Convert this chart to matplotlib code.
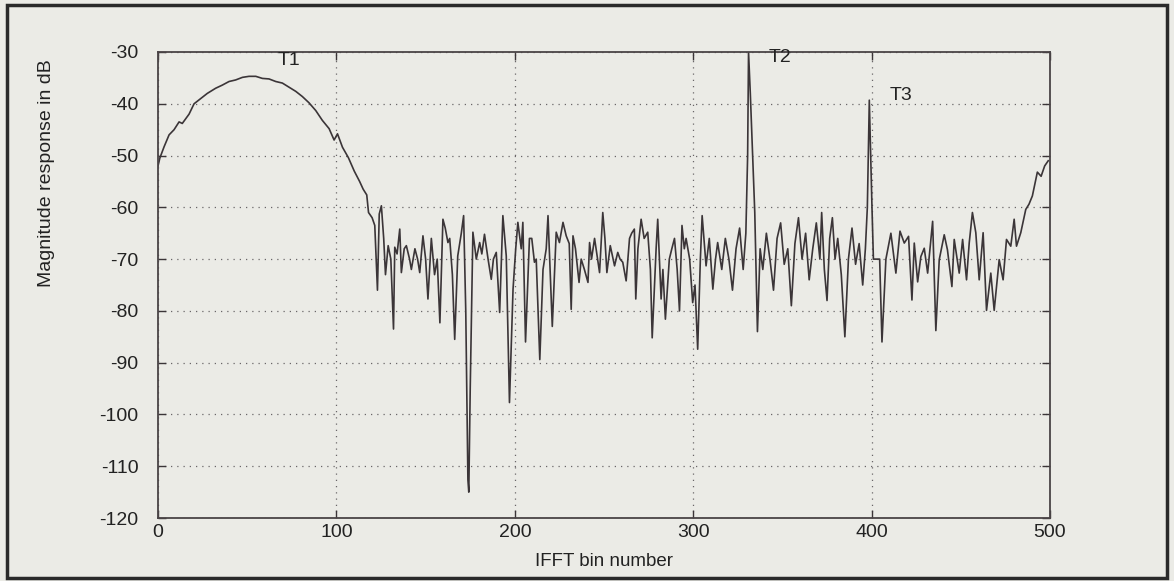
import numpy as np
import matplotlib
matplotlib.use("Agg")
import matplotlib.pyplot as plt
from matplotlib.patches import Rectangle

# values (bin, dB)
bins = [0, 1, 3.4, 6.2, 9, 11.8, 13.6, 17.4, 20.2, 23.9, 27.6, 32.3, 36, 39.8, 43.5,
        47.3, 51, 54.8, 58.5, 62.2, 66, 69.7, 73.4, 77.2, 80.9, 84.6, 88.4, 92.1,
        95.9, 98.7, 100.6, 103.4, 106.7, 110, 113, 115, 117, 118, 120, 121.5, 123,
        124, 125.2, 126.5, 127.5, 129, 130.5, 132, 132.7, 134, 135.5, 136.4, 138,
        139.2, 141, 142, 144, 145.5, 146.7, 148.5, 150, 151.3, 153.2, 155, 156.5,
        158, 159.7, 161, 162.5, 163.5, 165, 166.3, 168, 170, 171.3, 172.5, 173.7,
        174.2, 175, 176.5, 178.4, 180.3, 181.5, 183, 185, 186.8, 188, 189.6, 191.5,
        193.3, 195.2, 197, 199, 200.5, 201.7, 203.6, 204.5, 206, 208.2, 209.5, 211,
        212, 214, 215.8, 217.6, 218.6, 221, 223.2, 225, 227, 228.8, 230.5, 231.6,
        232.6, 234, 236, 237.2, 239, 241, 241.9, 243, 244.7, 246, 247.5, 249.3,
        250.5, 251.6, 253.5, 255.9, 257.7, 259, 260.5, 262.4, 264.3, 265.5, 267,
        267.8, 269, 270.8, 272.5, 274.5, 276, 277, 279.2, 280.1, 282, 283, 284.4,
        286.6, 288, 289.5, 291, 292.3, 293.7, 295, 296, 298, 299.7, 301, 302.5,
        304, 305, 307.2, 309, 311, 312.5, 313.7, 316, 318, 320, 322, 324, 326, 328,
        329.5, 330.5, 331, 332, 334.5, 336, 337.5, 339, 341, 343, 345, 347, 349,
        351, 353, 355, 357, 359, 361, 363, 365, 367, 369, 371, 372, 373.5, 375,
        376.5, 378, 379.5, 381, 383, 385, 387, 389, 391, 393, 395, 396.5, 397.6,
        398.7, 400.2, 401, 403, 404.5, 405.8, 408, 410.8, 413.6, 415.9, 418.3,
        420.7, 422.6, 423.9, 425.8, 427.6, 429.5, 431.4, 434.2, 436, 437.9, 440.7,
        442.5, 445, 446.3, 449.1, 451, 453.2, 454.7, 456.5, 458.4, 460.3, 462.5,
        464.4, 466.8, 468.7, 471.5, 473.7, 475.6, 478, 479.9, 481.2, 483.6, 486.4,
        488.2, 490.1, 492.9, 495, 497, 499]

magnitude_db = [-52, -50.5, -48.3, -46, -45, -43.5, -43.8, -42, -40, -39, -38, -37,
                -36.4, -35.7, -35.4, -34.9, -34.7, -34.7, -35.1, -35.2, -35.7, -36,
                -36.8, -37.6, -38.6, -39.8, -41.3, -43.2, -44.8, -47, -45.8, -48.4,
                -50.4, -53, -55, -56.5, -57.6, -61, -62, -63.5, -76, -61.3, -59.7,
                -66, -73, -67.4, -70, -83.5, -67.7, -69, -64.2, -72.6, -68, -67.4,
                -70, -72, -68, -70, -72.6, -65.5, -70, -77.7, -66, -73, -70, -82.3,
                -62.3, -64, -66.8, -66, -73, -85.5, -69.4, -65, -61.6, -80, -112.6,
                -115, -95, -64.8, -70, -66.8, -69, -65.2, -70, -73.9, -70, -68.7,
                -80.3, -61.6, -69.4, -97.7, -75.8, -68, -62.9, -68, -62.9, -86, -66,
                -66, -70.6, -70, -89.4, -72, -68, -61.6, -83, -64.8, -66.8, -62.9,
                -65.5, -67, -79.7, -65.5, -68, -74.5, -70, -72, -74.5, -66.8, -70,
                -66, -69, -72.6, -61, -66, -72.6, -67.4, -71.3, -68.7, -70, -70.6,
                -74.2, -66, -65, -64.2, -77.7, -68, -62.3, -66, -64.8, -72, -85.2,
                -68, -62.3, -77.7, -72, -81.6, -70, -68, -66, -72, -80, -63.5, -68,
                -66, -70, -78.4, -75, -87.4, -70, -61.6, -71.3, -66, -75.8, -70,
                -66.8, -72, -66, -70, -76, -68, -64, -72, -65, -50, -30, -38, -61,
                -84, -68, -72, -65, -70, -76, -66, -63, -71, -68, -79, -67, -62, -70,
                -65, -74, -68, -63, -70, -61, -72, -78, -66, -62, -70, -66, -73, -85,
                -70, -64, -71, -67, -75, -68, -60, -39.3, -60, -70, -70, -70, -86,
                -70, -65, -72.7, -64.6, -66.9, -65.6, -77.9, -66.9, -74.4, -69.5,
                -67.9, -72.7, -62.7, -83.8, -70.1, -65.3, -68.2, -75.3, -66.2, -72.7,
                -66.2, -74, -66.9, -61, -64.9, -74, -64.9, -79.9, -72.7, -79.9,
                -70.1, -74, -66.2, -67.5, -62.3, -67.5, -64.9, -60.4, -59.4, -57.8,
                -53.2, -54, -52, -51]

target_names = ["T1", "T2", "T3"]
target_bins = [67, 342, 410]
target_db = [-32.5, -31.9, -39.3]

bg = "#ebebe6"
ink = "#3b3538"

plt.rcParams["font.family"] = ["Liberation Sans", "DejaVu Sans"]
plt.rcParams["axes.unicode_minus"] = False

fig = plt.figure(figsize=(11.74, 5.81), dpi=100, facecolor=bg)
ax = fig.add_axes([0.1346, 0.1084, 0.7598, 0.8021], facecolor=bg)

ax.plot(bins, magnitude_db, color=ink, lw=1.2)

for name, b, d in zip(target_names, target_bins, target_db):
    ax.text(b, d, name, fontsize=14, color="#222", ha="left", va="baseline",
            clip_on=False)

ax.set_xlim(0, 500)
ax.set_ylim(-120, -30)
ax.set_xticks(np.arange(0, 501, 100))
ax.set_yticks(np.arange(-120, -29, 10))
ax.grid(True, color="#6a6668", linestyle=(0, (1, 4)), linewidth=0.9)

ax.tick_params(direction="in", length=6, width=1, color=ink, top=True, right=True,
               labelsize=14, labelcolor="#222")
ax.tick_params(axis="y", pad=14)
ax.tick_params(axis="x", pad=4)
for s in ax.spines.values():
    s.set_color("#4a4446")
    s.set_linewidth(1.3)

ax.set_xlabel("IFFT bin number", fontsize=13.5, color="#222", labelpad=9)
ax.set_ylabel("Magnitude response in dB", fontsize=14, color="#222")
ax.yaxis.set_label_coords(-0.115, 0.74)

# frame of the scanned figure
fig.add_artist(Rectangle((0.006, 0.006), 0.988, 0.986, transform=fig.transFigure,
                         fill=False, edgecolor="#2a2a2a", linewidth=2.5))

fig.savefig("out.png", dpi=100, facecolor=bg)
